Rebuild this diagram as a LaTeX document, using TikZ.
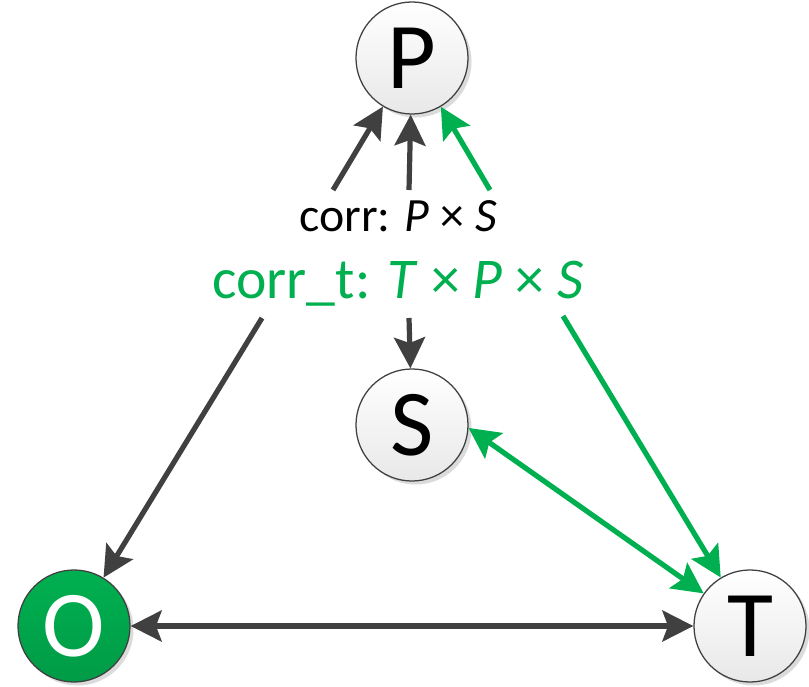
\documentclass[tikz,border=0pt]{standalone}
\usepackage{fontspec}
\setmainfont{Carlito}
\usetikzlibrary{arrows.meta, positioning, shadows}
\definecolor{edgegray}{RGB}{64,64,64}
\definecolor{corrgreen}{RGB}{0,176,80}

\tikzset{
  state/.style={circle, draw=edgegray, line width=0.9pt, minimum size=2.8cm, inner sep=0pt,
    top color=white, bottom color=black!9,
    drop shadow={shadow xshift=2.5pt, shadow yshift=-2.5pt, opacity=0.14, fill=black},
    font=\fontsize{67}{67}\selectfont},
  link/.style={line width=3.7pt, edgegray, -{Stealth[length=22pt,width=22pt,inset=4pt]}},
  tlink/.style={link, corrgreen},
  both/.style={link, {Stealth[length=22pt,width=22pt,inset=4pt]}-{Stealth[length=22pt,width=22pt,inset=4pt]}}
}

\begin{document}
\begin{tikzpicture}[x=0.025cm, y=0.025cm,
every node/.style={align=center}]

  \useasboundingbox (0,0) rectangle (809,686);

  % Sets
  \node[state] (P) at (412,628) {P};
  \node[state] (S) at (412,261) {S};
  \node[state] (T) at (750,60) {T};
  \node[state, draw=edgegray, top color=corrgreen, bottom color=corrgreen!88!black,
    text=white] (O) at (74,60) {O};

  % Relations
  \node[anchor=base, font=\fontsize{34}{34}\selectfont] (corr) at (398,454)
    {corr: \textit{P} × \textit{S}};
  \node[anchor=base, text=corrgreen, font=\fontsize{41}{41}\selectfont] (corrt) at (398,388)
    {corr\_t: \textit{T} × \textit{P} × \textit{S}};

  % Arrow tails next to the labels
  \coordinate (c1) at (333,496);
  \coordinate (c2) at (409,496);
  \coordinate (c3) at (490,496);
  \coordinate (t1) at (262,368);
  \coordinate (t2) at (409,368);
  \coordinate (t3) at (563,370);

  \draw[link] (c1) -- (P);
  \draw[link] (c2) -- (P);
  \draw[tlink] (c3) -- (P);

  \draw[link] (t1) -- (O);
  \draw[link] (t2) -- (S);
  \draw[tlink] (t3) -- (T);

  \draw[both, corrgreen] (S.-3) -- (T);
  \draw[both] (O) -- (T);

\end{tikzpicture}
\end{document}
